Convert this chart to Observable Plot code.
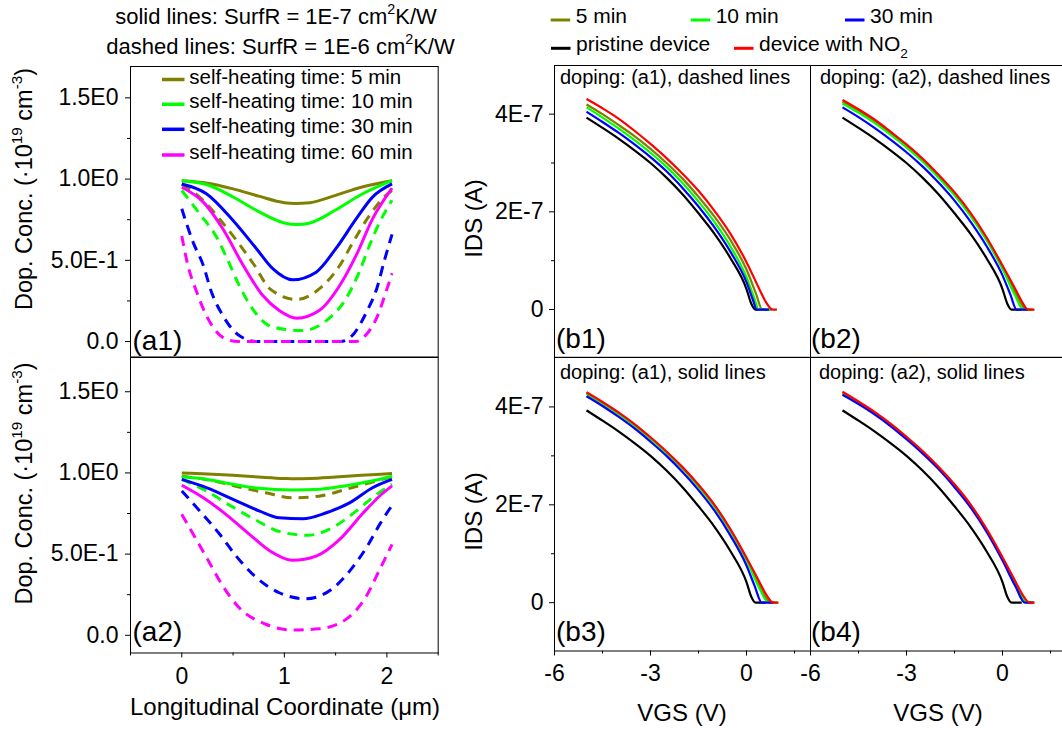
<!DOCTYPE html>
<html><head><meta charset="utf-8">
<script src="https://cdn.jsdelivr.net/npm/d3@7"></script>
<script src="https://cdn.jsdelivr.net/npm/@observablehq/plot@0.6"></script>
<style>
html,body{margin:0;padding:0;background:#fff;overflow:hidden}
#fig{position:relative;width:1062px;height:731px;overflow:hidden;background:#fff}
</style></head><body><div id="fig"></div>
<script>
// ---------- colours / legend ----------
const seriesColors = {m5:"#808000", m10:"#00ff00", m30:"#0000ff", m60:"#ff00ff", pristine:"#000000", no2:"#ff0000"};
const leftLegendLabels = ["self-heating time: 5 min","self-heating time: 10 min","self-heating time: 30 min","self-heating time: 60 min"];
const leftLegendKeys = ["m5","m10","m30","m60"];

// ---------- tick values / labels ----------
const xTicksLeft = [0, 1, 2];
const xTickLabelsLeft = ["0", "1", "2"];
const xMinorLeft = [-0.5, 0.5, 1.5, 2.5];
const yTicksLeft = [0, 0.5, 1.0, 1.5];
const yTickLabelsLeft = ["0.0", "5.0E-1", "1.0E0", "1.5E0"];
const yMinorLeft = [0.25, 0.75, 1.25];
const xTicksRight = [-6, -3, 0];
const xTickLabelsRight = ["-6", "-3", "0"];
const xMinorRight = [-4.5, -1.5, 1.5];
const yTicksRight = [0, 2, 4];            // units of 1E-7 A
const yTickLabelsRight = ["0", "2E-7", "4E-7"];
const yMinorRight = [1, 3];

// ---------- (a1) doping profiles: [x (µm), conc (1E19 cm^-3)] ----------
const a1_solid_5  = [[0,0.99],[0.25,0.975],[0.5,0.94],[0.75,0.895],[1.0,0.855],[1.1,0.85],[1.25,0.855],[1.5,0.9],[1.75,0.95],[2.05,0.99]];
const a1_solid_10 = [[0,0.99],[0.25,0.965],[0.5,0.89],[0.75,0.8],[1.0,0.73],[1.12,0.72],[1.25,0.73],[1.5,0.81],[1.75,0.905],[2.05,0.99]];
const a1_solid_30 = [[0,0.97],[0.24,0.91],[0.5,0.745],[0.73,0.57],[0.89,0.447],[1.08,0.38],[1.31,0.427],[1.5,0.57],[1.7,0.755],[1.86,0.889],[2.05,0.97]];
const a1_solid_60 = [[0,0.95],[0.21,0.858],[0.4,0.694],[0.6,0.468],[0.79,0.283],[0.95,0.191],[1.12,0.144],[1.34,0.191],[1.54,0.345],[1.7,0.53],[1.86,0.755],[2.05,0.944]];
const a1_dash_5   = [[0,0.97],[0.21,0.868],[0.38,0.745],[0.56,0.6],[0.71,0.468],[0.86,0.324],[1.12,0.259],[1.34,0.324],[1.54,0.468],[1.67,0.612],[1.83,0.776],[1.99,0.9],[2.05,0.93]];
const a1_dash_10  = [[0,0.93],[0.175,0.786],[0.34,0.642],[0.45,0.499],[0.56,0.345],[0.69,0.201],[0.89,0.088],[1.18,0.068],[1.41,0.129],[1.6,0.263],[1.73,0.427],[1.83,0.591],[1.93,0.735],[2.05,0.87]];
const a1_dash_30  = [[0,0.817],[0.11,0.612],[0.21,0.468],[0.29,0.304],[0.4,0.16],[0.56,0.037],[0.73,0],[1.55,0],[1.68,0.05],[1.8,0.18],[1.9,0.324],[1.98,0.509],[2.05,0.66]];
const a1_dash_60  = [[0,0.65],[0.06,0.468],[0.14,0.314],[0.24,0.16],[0.4,0.026],[0.55,0],[1.7,0],[1.78,0.03],[1.91,0.16],[1.99,0.304],[2.05,0.42]];

// ---------- (a2) doping profiles ----------
const a2_solid_5  = [[0,1.0],[0.25,0.993],[0.5,0.985],[0.75,0.975],[1.0,0.966],[1.1,0.964],[1.25,0.966],[1.5,0.975],[1.75,0.985],[2.05,0.997]];
const a2_solid_10 = [[0,0.976],[0.25,0.96],[0.5,0.93],[0.75,0.905],[1.08,0.895],[1.35,0.9],[1.59,0.92],[1.85,0.95],[2.05,0.98]];
const a2_solid_30 = [[0,0.96],[0.24,0.909],[0.5,0.837],[0.76,0.765],[0.95,0.724],[1.18,0.718],[1.41,0.755],[1.64,0.817],[1.86,0.909],[2.05,0.96]];
const a2_solid_60 = [[0,0.924],[0.21,0.847],[0.43,0.745],[0.66,0.622],[0.86,0.519],[1.08,0.462],[1.31,0.488],[1.54,0.591],[1.77,0.755],[1.93,0.858],[2.05,0.92]];
const a2_dash_5   = [[0,0.98],[0.27,0.956],[0.56,0.913],[0.82,0.878],[1.08,0.847],[1.34,0.857],[1.6,0.899],[1.86,0.944],[2.05,0.976]];
const a2_dash_10  = [[0,0.96],[0.24,0.889],[0.48,0.796],[0.71,0.714],[0.97,0.636],[1.23,0.616],[1.47,0.663],[1.7,0.765],[1.9,0.868],[2.05,0.93]];
const a2_dash_30  = [[0,0.889],[0.19,0.755],[0.37,0.622],[0.53,0.488],[0.71,0.365],[0.95,0.262],[1.21,0.225],[1.46,0.283],[1.65,0.406],[1.81,0.55],[1.94,0.694],[2.05,0.8]];
const a2_dash_60  = [[0,0.745],[0.14,0.591],[0.27,0.447],[0.4,0.304],[0.56,0.17],[0.82,0.068],[1.08,0.033],[1.34,0.04],[1.6,0.098],[1.8,0.242],[1.93,0.406],[2.05,0.56]];

// ---------- transfer curves: [VGS (V), IDS (1E-7 A)] ----------
const pristine = [[-5,3.93],[-4.5,3.72],[-4,3.5],[-3.5,3.26],[-3,3.0],[-2.5,2.7],[-2,2.36],[-1.5,1.97],[-1,1.55],[-0.5,1.05],[0,0.42],[0.15,0.12],[0.28,0],[0.6,0]];
const b1_5   = [[-5,4.2],[-4.5,4.0],[-4,3.78],[-3.5,3.55],[-3,3.29],[-2.5,3.0],[-2,2.68],[-1.5,2.31],[-1,1.9],[-0.5,1.42],[0,0.82],[0.3,0.32],[0.49,0],[0.8,0]];
const b1_10  = [[-5,4.14],[-4.5,3.93],[-4,3.71],[-3.5,3.47],[-3,3.21],[-2.5,2.92],[-2,2.59],[-1.5,2.21],[-1,1.79],[-0.5,1.29],[0,0.66],[0.25,0.22],[0.38,0],[0.75,0]];
const b1_30  = [[-5,4.05],[-4.5,3.84],[-4,3.62],[-3.5,3.38],[-3,3.12],[-2.5,2.83],[-2,2.49],[-1.5,2.11],[-1,1.68],[-0.5,1.18],[0,0.56],[0.2,0.2],[0.32,0],[0.7,0]];
const b1_no2 = [[-5,4.31],[-4.5,4.12],[-4,3.91],[-3.5,3.66],[-3,3.39],[-2.5,3.1],[-2,2.78],[-1.5,2.43],[-1,2.02],[-0.5,1.55],[0,0.97],[0.4,0.42],[0.6,0.16],[0.82,0],[0.95,0]];
const b2_5   = [[-5,4.26],[-4.5,4.07],[-4,3.86],[-3.5,3.61],[-3,3.35],[-2.5,3.06],[-2,2.73],[-1.5,2.37],[-1,1.95],[-0.5,1.45],[0,0.87],[0.4,0.35],[0.6,0.1],[0.75,0],[0.95,0]];
const b2_10  = [[-5,4.22],[-4.5,4.03],[-4,3.82],[-3.5,3.58],[-3,3.32],[-2.5,3.03],[-2,2.7],[-1.5,2.34],[-1,1.92],[-0.5,1.42],[0,0.83],[0.4,0.28],[0.65,0],[0.9,0]];
const b2_30  = [[-5,4.14],[-4.5,3.94],[-4,3.72],[-3.5,3.48],[-3,3.22],[-2.5,2.93],[-2,2.6],[-1.5,2.23],[-1,1.8],[-0.5,1.3],[0,0.7],[0.25,0.3],[0.44,0],[0.8,0]];
const b2_no2 = [[-5,4.29],[-4.5,4.1],[-4,3.89],[-3.5,3.64],[-3,3.38],[-2.5,3.09],[-2,2.76],[-1.5,2.4],[-1,1.98],[-0.5,1.48],[0,0.9],[0.4,0.42],[0.6,0.17],[0.8,0],[1.0,0]];
const b3_5   = [[-5,4.28],[-4.5,4.08],[-4,3.87],[-3.5,3.63],[-3,3.36],[-2.5,3.07],[-2,2.75],[-1.5,2.39],[-1,1.98],[-0.5,1.48],[0,0.89],[0.4,0.36],[0.6,0.1],[0.76,0],[0.97,0]];
const b3_10  = [[-5,4.27],[-4.5,4.07],[-4,3.86],[-3.5,3.62],[-3,3.35],[-2.5,3.06],[-2,2.74],[-1.5,2.37],[-1,1.96],[-0.5,1.46],[0,0.87],[0.4,0.3],[0.69,0],[0.95,0]];
const b3_30  = [[-5,4.22],[-4.5,4.02],[-4,3.8],[-3.5,3.56],[-3,3.29],[-2.5,3.0],[-2,2.67],[-1.5,2.3],[-1,1.88],[-0.5,1.37],[0,0.76],[0.25,0.35],[0.48,0],[0.85,0]];
const b3_no2 = [[-5,4.3],[-4.5,4.1],[-4,3.89],[-3.5,3.65],[-3,3.38],[-2.5,3.09],[-2,2.77],[-1.5,2.41],[-1,2.0],[-0.5,1.5],[0,0.92],[0.4,0.43],[0.62,0.16],[0.84,0],[1.0,0]];
const b4_5   = [[-5,4.29],[-4.5,4.09],[-4,3.88],[-3.5,3.64],[-3,3.37],[-2.5,3.08],[-2,2.76],[-1.5,2.4],[-1,1.99],[-0.5,1.49],[0,0.91],[0.4,0.41],[0.6,0.15],[0.82,0],[0.99,0]];
const b4_10  = [[-5,4.28],[-4.5,4.08],[-4,3.87],[-3.5,3.63],[-3,3.36],[-2.5,3.07],[-2,2.75],[-1.5,2.39],[-1,1.98],[-0.5,1.48],[0,0.9],[0.4,0.38],[0.6,0.13],[0.78,0],[0.98,0]];
const b4_30  = [[-5,4.25],[-4.5,4.06],[-4,3.85],[-3.5,3.61],[-3,3.34],[-2.5,3.05],[-2,2.73],[-1.5,2.36],[-1,1.95],[-0.5,1.45],[0,0.86],[0.4,0.34],[0.7,0],[0.95,0]];
const b4_no2 = [[-5,4.31],[-4.5,4.11],[-4,3.9],[-3.5,3.66],[-3,3.39],[-2.5,3.1],[-2,2.78],[-1.5,2.42],[-1,2.01],[-0.5,1.51],[0,0.93],[0.4,0.44],[0.62,0.17],[0.85,0],[1.0,0]];

// ---------- rendering ----------
const FONT = "'Liberation Sans', Arial, Helvetica, sans-serif";
const fig = document.getElementById("fig");
const DASH = "10,7";

function mapFmt(vals, labels) {
  const m = new Map(vals.map((v, i) => [v, labels[i]]));
  return d => (m.has(d) ? m.get(d) : "");
}

function addPanel(c) {
  const marks = c.lines.map(s => Plot.line(s.data, {
    x: d => d[0], y: d => d[1], stroke: s.color, strokeWidth: s.width,
    ...(s.dash ? {strokeDasharray: s.dash} : {}),
    strokeLinecap: "butt", strokeLinejoin: "round", curve: "monotone-x"
  }));
  marks.push(Plot.frame({stroke: "black", strokeWidth: 1}));
  if (c.yAxis) {
    marks.push(Plot.axisY(c.yAxis.major, {anchor: "left", tickSize: 5, tickPadding: c.yAxis.pad,
      tickFormat: mapFmt(c.yAxis.major, c.yAxis.labels), fontSize: 23, label: null}));
    marks.push(Plot.axisY(c.yAxis.minor, {anchor: "left", tickSize: 3, tickFormat: () => "", label: null}));
  }
  if (c.xAxis) {
    marks.push(Plot.axisX(c.xAxis.major, {anchor: "bottom", tickSize: 5, tickPadding: c.xAxis.pad,
      tickFormat: mapFmt(c.xAxis.major, c.xAxis.labels), fontSize: 23, label: null}));
    marks.push(Plot.axisX(c.xAxis.minor, {anchor: "bottom", tickSize: 3, tickFormat: () => "", label: null}));
  }
  const svg = Plot.plot({
    width: c.fw + c.mL + c.mR, height: c.fh + c.mT + c.mB,
    marginLeft: c.mL, marginRight: c.mR, marginTop: c.mT, marginBottom: c.mB,
    x: {domain: c.xDomain, ...(c.xAxis ? {} : {axis: null})},
    y: {domain: c.yDomain, ...(c.yAxis ? {} : {axis: null})},
    style: {background: "transparent", overflow: "visible", fontFamily: FONT, fontSize: "23px", color: "black", maxWidth: "none"},
    marks
  });
  svg.style.position = "absolute";
  svg.style.left = (c.fx - c.mL) + "px";
  svg.style.top = (c.fy - c.mT) + "px";
  fig.appendChild(svg);
}

const C = seriesColors;
const leftLines = (d5, d10, d30, d60, s5, s10, s30, s60) => [
  {data: d5, color: C.m5, width: 3, dash: DASH}, {data: d10, color: C.m10, width: 3, dash: DASH},
  {data: d30, color: C.m30, width: 3, dash: DASH}, {data: d60, color: C.m60, width: 3, dash: DASH},
  {data: s5, color: C.m5, width: 3}, {data: s10, color: C.m10, width: 3},
  {data: s30, color: C.m30, width: 3}, {data: s60, color: C.m60, width: 3}
];
const rightLines = (p, d5, d10, d30, dn) => [
  {data: p, color: C.pristine, width: 2.2}, {data: d5, color: C.m5, width: 2.2},
  {data: d10, color: C.m10, width: 2.2}, {data: d30, color: C.m30, width: 2.2},
  {data: dn, color: C.no2, width: 2.2}
];
const yAxL = {major: yTicksLeft, labels: yTickLabelsLeft, minor: yMinorLeft, pad: 7};
const xAxL = {major: xTicksLeft, labels: xTickLabelsLeft, minor: xMinorLeft, pad: 10};
const yAxR = {major: yTicksRight, labels: yTickLabelsRight, minor: yMinorRight, pad: 6};
const xAxR = {major: xTicksRight, labels: xTickLabelsRight, minor: xMinorRight, pad: 8.5};

// (a1)
addPanel({fx: 130, fy: 66, fw: 307.7, fh: 290.5, mL: 130, mR: 8, mT: 4, mB: 4,
  xDomain: [-0.5, 2.5], yDomain: [-0.095, 1.693], yAxis: yAxL,
  lines: leftLines(a1_dash_5, a1_dash_10, a1_dash_30, a1_dash_60, a1_solid_5, a1_solid_10, a1_solid_30, a1_solid_60)});
// (a2)
addPanel({fx: 130, fy: 356.5, fw: 307.7, fh: 295.5, mL: 130, mR: 8, mT: 4, mB: 45,
  xDomain: [-0.5, 2.5], yDomain: [-0.109, 1.711], yAxis: yAxL, xAxis: xAxL,
  lines: leftLines(a2_dash_5, a2_dash_10, a2_dash_30, a2_dash_60, a2_solid_5, a2_solid_10, a2_solid_30, a2_solid_60)});
// (b1)
addPanel({fx: 554, fy: 64.7, fw: 256, fh: 291.8, mL: 95, mR: 4, mT: 4, mB: 4,
  xDomain: [-6, 2], yDomain: [-0.978, 4.996], yAxis: yAxR,
  lines: rightLines(pristine, b1_5, b1_10, b1_30, b1_no2)});
// (b2)
addPanel({fx: 810, fy: 64.7, fw: 256, fh: 291.8, mL: 4, mR: 4, mT: 4, mB: 4,
  xDomain: [-6, 2], yDomain: [-0.978, 4.996],
  lines: rightLines(pristine, b2_5, b2_10, b2_30, b2_no2)});
// (b3)
addPanel({fx: 554, fy: 356.5, fw: 256, fh: 293.5, mL: 95, mR: 4, mT: 4, mB: 45,
  xDomain: [-6, 2], yDomain: [-0.987, 5.01], yAxis: yAxR, xAxis: xAxR,
  lines: rightLines(pristine, b3_5, b3_10, b3_30, b3_no2)});
// (b4)
addPanel({fx: 810, fy: 356.5, fw: 256, fh: 293.5, mL: 4, mR: 4, mT: 4, mB: 45,
  xDomain: [-6, 2], yDomain: [-0.987, 5.01], xAxis: xAxR,
  lines: rightLines(pristine, b4_5, b4_10, b4_30, b4_no2)});

// ---------- text overlay ----------
const ov = d3.select(fig).append("svg")
  .attr("width", 1062).attr("height", 731)
  .style("position", "absolute").style("left", "0px").style("top", "0px")
  .style("pointer-events", "none").style("overflow", "visible")
  .attr("font-family", FONT).attr("fill", "black");

function rich(x, y, parts, size, opts = {}) {
  const t = ov.append("text").attr("x", x).attr("y", y).attr("font-size", size)
    .attr("text-anchor", opts.anchor || "start");
  if (opts.rotate) t.attr("transform", `rotate(${opts.rotate},${x},${y})`);
  let shift = 0;
  for (const p of parts) {
    const s = t.append("tspan").text(p.t);
    let target = p.sup ? -0.42 * size : p.sub ? 0.3 * size : 0;
    if (target !== shift) { s.attr("dy", target - shift); shift = target; }
    if (p.sup || p.sub) s.attr("font-size", size * 0.65);
  }
  return t;
}

// titles
rich(276, 23.5, [{t: "solid lines: SurfR = 1E-7 cm"}, {t: "2", sup: true}, {t: "K/W"}], 22, {anchor: "middle"});
rich(280.5, 53.5, [{t: "dashed lines: SurfR = 1E-6 cm"}, {t: "2", sup: true}, {t: "K/W"}], 22, {anchor: "middle"});

// left legend
const llY = [79.5, 104.3, 129.3, 155];
leftLegendKeys.forEach((k, i) => {
  ov.append("line").attr("x1", 162).attr("x2", 184.5).attr("y1", llY[i]).attr("y2", llY[i])
    .attr("stroke", C[k]).attr("stroke-width", 3.5);
  rich(189.3, llY[i] + 4, [{t: leftLegendLabels[i]}], 20.5);
});

// right legend
const rightLegend = [
  {k: "m5", x: 550.7, y: 20, parts: [{t: "5 min"}]},
  {k: "m10", x: 690.7, y: 20, parts: [{t: "10 min"}]},
  {k: "m30", x: 845, y: 20, parts: [{t: "30 min"}]},
  {k: "pristine", x: 551, y: 48.3, parts: [{t: "pristine device"}]},
  {k: "no2", x: 734, y: 48.3, parts: [{t: "device with NO"}, {t: "2", sub: true}]}
];
rightLegend.forEach(e => {
  ov.append("line").attr("x1", e.x).attr("x2", e.x + 19.5).attr("y1", e.y).attr("y2", e.y)
    .attr("stroke", C[e.k]).attr("stroke-width", 3);
  rich(e.x + 25, e.y + 3, e.parts, 21);
});

// panel notes
rich(560, 84.3, [{t: "doping: (a1), dashed lines"}], 20);
rich(820, 84.3, [{t: "doping: (a2), dashed lines"}], 20);
rich(560, 378.5, [{t: "doping: (a1), solid lines"}], 20);
rich(819, 378.5, [{t: "doping: (a2), solid lines"}], 20);

// panel labels
rich(132.5, 350, [{t: "(a1)"}], 28);
rich(132.5, 641, [{t: "(a2)"}], 28);
rich(556, 347.5, [{t: "(b1)"}], 28);
rich(811, 347.5, [{t: "(b2)"}], 28);
rich(556, 641.3, [{t: "(b3)"}], 28);
rich(811, 641.3, [{t: "(b4)"}], 28);

// axis titles
const dopLabel = [{t: "Dop. Conc. (\u00b710"}, {t: "19", sup: true}, {t: " cm"}, {t: "-3", sup: true}, {t: ")"}];
rich(31.5, 189, dopLabel, 23.5, {anchor: "middle", rotate: -90});
rich(31.5, 483.5, dopLabel, 23.5, {anchor: "middle", rotate: -90});
rich(481.7, 218.5, [{t: "IDS (A)"}], 24, {anchor: "middle", rotate: -90});
rich(481.7, 511.5, [{t: "IDS (A)"}], 24, {anchor: "middle", rotate: -90});
rich(285, 715, [{t: "Longitudinal Coordinate (\u03bcm)"}], 24, {anchor: "middle"});
rich(682, 721, [{t: "VGS (V)"}], 24, {anchor: "middle"});
rich(938, 721, [{t: "VGS (V)"}], 24, {anchor: "middle"});
</script></body></html>
